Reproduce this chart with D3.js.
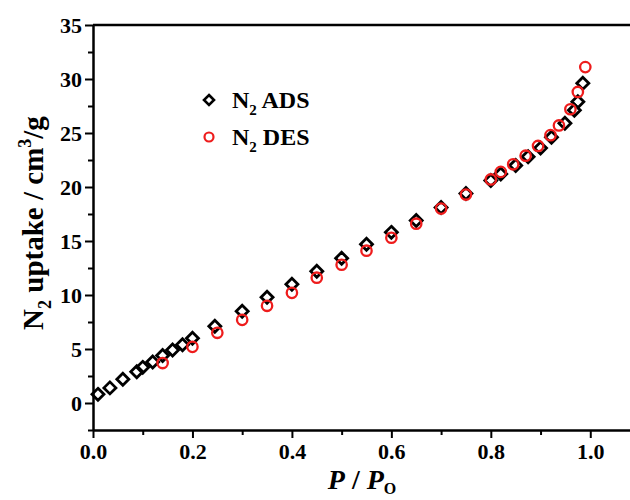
<!DOCTYPE html>
<html>
<head>
<meta charset="utf-8">
<script src="https://cdn.jsdelivr.net/npm/d3@7"></script>
<style>
  body { margin: 0; background: #fff; }
  svg { display: block; }
</style>
</head>
<body>
<div id="chart"></div>
<script>
// N2 adsorption / desorption isotherm

const adsP = [0.01, 0.034, 0.06, 0.088, 0.10, 0.12, 0.14, 0.16, 0.18, 0.20, 0.245, 0.30, 0.35, 0.40, 0.45, 0.50, 0.55, 0.60, 0.65, 0.70, 0.75, 0.80, 0.82, 0.85, 0.875, 0.90, 0.922, 0.949, 0.968, 0.975, 0.985];
const adsV = [0.8, 1.4, 2.2, 2.9, 3.3, 3.8, 4.4, 4.9, 5.4, 6.0, 7.1, 8.5, 9.8, 11.0, 12.2, 13.4, 14.7, 15.8, 16.9, 18.1, 19.4, 20.6, 21.2, 22.0, 22.8, 23.6, 24.6, 25.9, 27.1, 27.9, 29.6];

const desP = [0.14, 0.20, 0.25, 0.30, 0.35, 0.40, 0.45, 0.50, 0.55, 0.60, 0.65, 0.70, 0.75, 0.80, 0.82, 0.845, 0.87, 0.895, 0.92, 0.937, 0.96, 0.975, 0.99];
const desV = [3.7, 5.2, 6.5, 7.7, 9.0, 10.2, 11.6, 12.8, 14.1, 15.3, 16.6, 18.0, 19.3, 20.7, 21.4, 22.1, 22.9, 23.8, 24.8, 25.7, 27.2, 28.8, 31.1];

const xTicks = [0.0, 0.2, 0.4, 0.6, 0.8, 1.0];
const xMinor = [0.1, 0.3, 0.5, 0.7, 0.9];
const yTicks = [0, 5, 10, 15, 20, 25, 30, 35];
const yMinor = [-2.5, 2.5, 7.5, 12.5, 17.5, 22.5, 27.5, 32.5];

const width = 630;
const height = 500;
const font = "'Liberation Serif', 'Times New Roman', serif";

const svg = d3.select("#chart").append("svg")
    .attr("width", width)
    .attr("height", height);

// 比例尺 (right edge is outside the picture)
const x = d3.scaleLinear().domain([0, 1.1]).range([93, 640]);
const y = d3.scaleLinear().domain([-2.5, 35]).range([430, 25]);

// 坐标框
svg.append("line")
    .attr("x1", x(0)).attr("x2", x(1.1))
    .attr("y1", y(35)).attr("y2", y(35))
    .attr("stroke", "#000").attr("stroke-width", 2.5);

// 次刻度
svg.append("g")
    .attr("transform", `translate(0,${y(-2.5)})`)
    .call(d3.axisBottom(x).tickValues(xMinor).tickSize(5).tickFormat("").tickSizeOuter(0))
    .call(g => g.select(".domain").remove())
    .call(g => g.selectAll("line").attr("stroke-width", 2));

svg.append("g")
    .attr("transform", `translate(${x(0)},0)`)
    .call(d3.axisLeft(y).tickValues(yMinor).tickSize(5).tickFormat("").tickSizeOuter(0))
    .call(g => g.select(".domain").remove())
    .call(g => g.selectAll("line").attr("stroke-width", 2));

// 主坐标轴
const xAxis = svg.append("g")
    .attr("transform", `translate(0,${y(-2.5)})`)
    .call(d3.axisBottom(x).tickValues(xTicks).tickSize(8).tickSizeOuter(0).tickPadding(5)
        .tickFormat(d3.format(".1f")));

const yAxis = svg.append("g")
    .attr("transform", `translate(${x(0)},0)`)
    .call(d3.axisLeft(y).tickValues(yTicks).tickSize(8).tickSizeOuter(0).tickPadding(3)
        .tickFormat(d3.format("d")));

[xAxis, yAxis].forEach(ax => {
    ax.select(".domain").attr("stroke-width", 2.5);
    ax.selectAll("line").attr("stroke-width", 2);
    ax.selectAll("text")
        .attr("font-family", font)
        .attr("font-weight", "bold")
        .attr("font-size", 22)
        .attr("fill", "#000");
});

// 数据点
const ads = adsP.map((p, i) => ({ p, v: adsV[i] }));
const des = desP.map((p, i) => ({ p, v: desV[i] }));

const diamond = s => `M0,${-s} L${s},0 L0,${s} L${-s},0 Z`;

svg.append("g").selectAll("path")
    .data(ads)
    .join("path")
    .attr("d", diamond(6))
    .attr("transform", d => `translate(${x(d.p)},${y(d.v)})`)
    .attr("fill", "none")
    .attr("stroke", "#000")
    .attr("stroke-width", 2.8);

svg.append("g").selectAll("circle")
    .data(des)
    .join("circle")
    .attr("cx", d => x(d.p))
    .attr("cy", d => y(d.v))
    .attr("r", 5.2)
    .attr("fill", "none")
    .attr("stroke", "#ee1c1c")
    .attr("stroke-width", 2.3);

// 图例
const legend = [
    { label: "ADS", y: 100, type: "ads" },
    { label: "DES", y: 137, type: "des" }
];

legend.forEach(l => {
    if (l.type === "ads") {
        svg.append("path")
            .attr("d", diamond(5))
            .attr("transform", `translate(209,${l.y})`)
            .attr("fill", "none").attr("stroke", "#000").attr("stroke-width", 2.6);
    } else {
        svg.append("circle")
            .attr("cx", 209).attr("cy", l.y).attr("r", 4.5)
            .attr("fill", "none").attr("stroke", "#ee1c1c").attr("stroke-width", 2.2);
    }
    const t = svg.append("text")
        .attr("x", 232).attr("y", l.y + 8)
        .attr("font-family", font).attr("font-weight", "bold")
        .attr("font-size", 24).attr("fill", "#000");
    t.append("tspan").text("N");
    t.append("tspan").attr("font-size", 15).attr("dy", 7).text("2");
    t.append("tspan").attr("dy", -7).text(" " + l.label);
});

// 坐标轴标题
const yl = svg.append("text")
    .attr("transform", "translate(43,223) rotate(-90)")
    .attr("text-anchor", "middle")
    .attr("font-family", font).attr("font-weight", "bold")
    .attr("font-size", 29).attr("fill", "#000");
yl.append("tspan").text("N");
yl.append("tspan").attr("font-size", 18).attr("dy", 8).text("2");
yl.append("tspan").attr("dy", -8).text(" uptake / cm");
yl.append("tspan").attr("font-size", 18).attr("dy", -12).text("3");
yl.append("tspan").attr("dy", 12).text("/g");

const xl = svg.append("text")
    .attr("x", 362).attr("y", 489)
    .attr("text-anchor", "middle")
    .attr("font-family", font).attr("font-weight", "bold")
    .attr("font-size", 28).attr("fill", "#000");
xl.append("tspan").attr("font-style", "italic").text("P");
xl.append("tspan").text(" / ");
xl.append("tspan").attr("font-style", "italic").text("P");
xl.append("tspan").attr("font-size", 16).attr("dy", 5).text("O");
</script>
</body>
</html>
